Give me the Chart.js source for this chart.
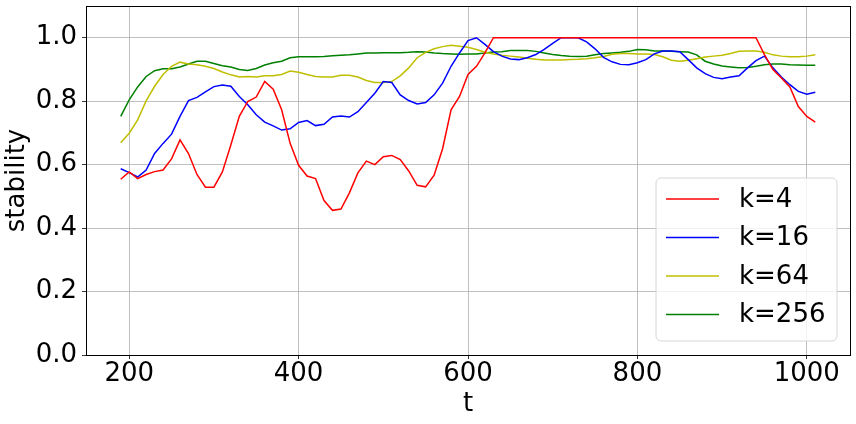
<!DOCTYPE html>
<html>
<head>
<meta charset="utf-8">
<script src="https://cdn.jsdelivr.net/npm/chart.js@4.4.0/dist/chart.umd.min.js"></script>
<style>
  html, body { margin: 0; padding: 0; background: #fff; }
  #wrap { width: 856px; height: 424px; }
</style>
</head>
<body>
<div id="wrap"><canvas id="stabilityChart" width="856" height="424"></canvas></div>
<script>
// time steps
const t = [190, 200, 210, 220, 230, 240, 250, 260, 270, 280, 290, 300, 310, 320, 330, 340, 350, 360, 370, 380,
  390, 400, 410, 420, 430, 440, 450, 460, 470, 480, 490, 500, 510, 520, 530, 540, 550, 560, 570, 580,
  590, 600, 610, 620, 630, 640, 650, 660, 670, 680, 690, 700, 710, 720, 730, 740, 750, 760, 770, 780,
  790, 800, 810, 820, 830, 840, 850, 860, 870, 880, 890, 900, 910, 920, 930, 940, 950, 960, 970, 980,
  990, 1000, 1010];

// stability per k
const k4 = [0.554, 0.577, 0.556, 0.569, 0.578, 0.583, 0.618, 0.678, 0.635, 0.569, 0.529, 0.529, 0.577, 0.662, 0.752, 0.799, 0.813, 0.862, 0.838, 0.773,
  0.667, 0.598, 0.564, 0.556, 0.487, 0.456, 0.460, 0.511, 0.574, 0.611, 0.600, 0.625, 0.629, 0.616, 0.580, 0.535, 0.530, 0.567, 0.650, 0.773,
  0.815, 0.884, 0.910, 0.952, 1.0, 1.0, 1.0, 1.0, 1.0, 1.0, 1.0, 1.0, 1.0, 1.0, 1.0, 1.0, 1.0, 1.0, 1.0, 1.0,
  1.0, 1.0, 1.0, 1.0, 1.0, 1.0, 1.0, 1.0, 1.0, 1.0, 1.0, 1.0, 1.0, 1.0, 1.0, 1.0, 0.947, 0.900, 0.873, 0.845,
  0.783, 0.752, 0.734];
const k16 = [0.587, 0.575, 0.561, 0.583, 0.635, 0.667, 0.696, 0.752, 0.802, 0.812, 0.829, 0.846, 0.851, 0.847, 0.815, 0.789, 0.757, 0.734, 0.722, 0.709,
  0.713, 0.733, 0.739, 0.723, 0.727, 0.750, 0.753, 0.750, 0.767, 0.796, 0.825, 0.862, 0.859, 0.820, 0.802, 0.791, 0.796, 0.820, 0.857, 0.910,
  0.952, 0.991, 1.0, 0.979, 0.956, 0.942, 0.933, 0.931, 0.937, 0.947, 0.963, 0.982, 1.0, 1.0, 1.0, 0.987, 0.965, 0.938, 0.924, 0.916,
  0.915, 0.921, 0.931, 0.949, 0.958, 0.958, 0.956, 0.931, 0.905, 0.887, 0.875, 0.871, 0.876, 0.880, 0.905, 0.928, 0.942, 0.905, 0.876, 0.852,
  0.831, 0.822, 0.828];
const k64 = [0.669, 0.699, 0.741, 0.801, 0.847, 0.884, 0.910, 0.923, 0.917, 0.915, 0.910, 0.903, 0.892, 0.883, 0.876, 0.878, 0.876, 0.880, 0.880, 0.884,
  0.895, 0.891, 0.884, 0.878, 0.876, 0.876, 0.882, 0.882, 0.876, 0.865, 0.859, 0.859, 0.862, 0.880, 0.905, 0.937, 0.954, 0.965, 0.972, 0.976,
  0.973, 0.970, 0.963, 0.954, 0.949, 0.945, 0.942, 0.939, 0.935, 0.932, 0.930, 0.930, 0.930, 0.931, 0.932, 0.934, 0.937, 0.941, 0.948, 0.950,
  0.950, 0.949, 0.949, 0.947, 0.940, 0.929, 0.926, 0.929, 0.934, 0.939, 0.942, 0.945, 0.950, 0.957, 0.958, 0.958, 0.954, 0.946, 0.942, 0.940,
  0.940, 0.942, 0.946];
const k256 = [0.752, 0.804, 0.845, 0.878, 0.896, 0.902, 0.902, 0.908, 0.917, 0.926, 0.926, 0.919, 0.912, 0.908, 0.900, 0.897, 0.903, 0.914, 0.921, 0.926,
  0.937, 0.940, 0.940, 0.940, 0.941, 0.943, 0.945, 0.946, 0.949, 0.952, 0.952, 0.953, 0.953, 0.953, 0.954, 0.956, 0.955, 0.952, 0.950, 0.949,
  0.948, 0.949, 0.949, 0.952, 0.955, 0.956, 0.960, 0.960, 0.960, 0.957, 0.952, 0.947, 0.944, 0.942, 0.941, 0.942, 0.946, 0.950, 0.952, 0.954,
  0.957, 0.963, 0.962, 0.958, 0.958, 0.957, 0.956, 0.955, 0.946, 0.926, 0.917, 0.911, 0.908, 0.905, 0.906, 0.910, 0.915, 0.917, 0.917, 0.915,
  0.914, 0.913, 0.913];

const seriesNames = ['k=4', 'k=16', 'k=64', 'k=256'];
const xTicks = [200, 400, 600, 800, 1000];
const yTicks = [0.0, 0.2, 0.4, 0.6, 0.8, 1.0];

const FONT = 'DejaVu Sans';
const SIZE = 26;
const colors = ['#ff0000', '#0000ff', '#bfbf00', '#008000'];

function points(values) {
  return values.map((v, i) => ({ x: t[i], y: v }));
}

// Legend drawn inside the axes, bottom right, like matplotlib's
const insideLegend = {
  id: 'insideLegend',
  afterDatasetsDraw(chart) {
    const ctx = chart.ctx;
    const area = chart.chartArea;
    const w = 181, h = 163;
    const x0 = area.right - 13 - w;
    const y0 = area.bottom - 14 - h;
    ctx.save();
    ctx.beginPath();
    ctx.roundRect(x0, y0, w, h, 5);
    ctx.fillStyle = 'rgba(255,255,255,0.8)';
    ctx.fill();
    ctx.strokeStyle = '#d6d6d6';
    ctx.lineWidth = 1;
    ctx.stroke();
    ctx.font = SIZE + 'px "' + FONT + '"';
    ctx.textBaseline = 'middle';
    chart.data.datasets.forEach((ds, i) => {
      const cy = y0 + 21 + i * 38.5;
      ctx.strokeStyle = ds.borderColor;
      ctx.lineWidth = 1.5;
      ctx.beginPath();
      ctx.moveTo(x0 + 10, cy);
      ctx.lineTo(x0 + 63, cy);
      ctx.stroke();
      ctx.fillStyle = '#000';
      ctx.fillText(ds.label, x0 + 83, cy + 1);
    });
    ctx.restore();
  }
};

// Black frame around the axes
const frame = {
  id: 'frame',
  afterDraw(chart) {
    const a = chart.chartArea;
    const ctx = chart.ctx;
    ctx.save();
    ctx.strokeStyle = '#000';
    ctx.lineWidth = 1;
    ctx.strokeRect(Math.round(a.left) + 0.5, Math.round(a.top) + 0.5,
      Math.round(a.right - a.left), Math.round(a.bottom - a.top));
    ctx.restore();
  }
};

const ctx = document.getElementById('stabilityChart').getContext('2d');
new Chart(ctx, {
  type: 'line',
  data: {
    datasets: [k4, k16, k64, k256].map((vals, i) => ({
      label: seriesNames[i],
      data: points(vals),
      borderColor: colors[i],
      backgroundColor: colors[i],
      borderWidth: 1.5,
      pointRadius: 0,
      tension: 0,
      fill: false
    }))
  },
  options: {
    responsive: false,
    animation: false,
    layout: { padding: { top: 6, right: 6, left: 0, bottom: 0 } },
    plugins: {
      legend: { display: false },
      tooltip: { enabled: false }
    },
    scales: {
      x: {
        type: 'linear',
        min: 149,
        max: 1051,
        afterBuildTicks: scale => { scale.ticks = xTicks.map(v => ({ value: v })); },
        afterFit: scale => { scale.height = 69; },
        grid: { color: '#b0b0b0', lineWidth: 0.8, tickLength: 4, tickColor: '#000', drawTicks: true },
        border: { display: false },
        ticks: {
          font: { family: FONT, size: SIZE },
          color: '#000',
          padding: 0,
          maxRotation: 0,
          callback: v => String(v)
        },
        title: {
          display: true,
          text: 't',
          font: { family: FONT, size: SIZE },
          color: '#000',
          padding: { top: 0, bottom: 4 }
        }
      },
      y: {
        min: 0,
        max: 1.1,
        afterBuildTicks: scale => { scale.ticks = yTicks.map(v => ({ value: v })); },
        afterFit: scale => { scale.width = 86; scale.paddingTop = 0; scale.paddingBottom = 0; },
        grid: { color: '#b0b0b0', lineWidth: 0.8, tickLength: 4, tickColor: '#000', drawTicks: true },
        border: { display: false },
        ticks: {
          font: { family: FONT, size: SIZE },
          color: '#000',
          padding: 5,
          callback: v => Number(v).toFixed(1)
        },
        title: {
          display: true,
          text: 'stability',
          font: { family: FONT, size: SIZE },
          color: '#000',
          padding: { top: 2, bottom: 0 }
        }
      }
    }
  },
  plugins: [insideLegend, frame]
});
</script>
</body>
</html>
